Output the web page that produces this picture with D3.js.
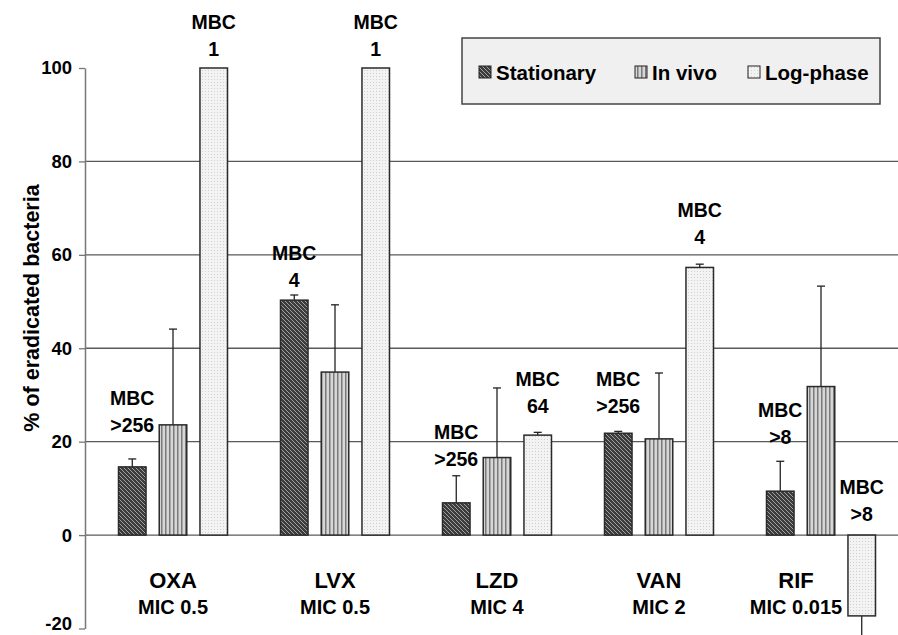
<!DOCTYPE html>
<html>
<head>
<meta charset="utf-8">
<script src="https://cdn.jsdelivr.net/npm/d3@7"></script>
<style>
  body { margin: 0; background: #fff; }
  svg { display: block; font-family: "Liberation Sans", Arial, sans-serif; font-weight: bold; }
</style>
</head>
<body>
<svg width="898" height="635"></svg>
<script>
// chart values
const categories = ["OXA", "LVX", "LZD", "VAN", "RIF"];
const micLabels = ["MIC 0.5", "MIC 0.5", "MIC 4", "MIC 2", "MIC 0.015"];
const seriesNames = ["Stationary", "In vivo", "Log-phase"];

const stationary = [14.6, 50.3, 6.9, 21.8, 9.4];
const stationaryErr = [1.7, 1.1, 5.8, 0.4, 6.4];
const inVivo = [23.6, 34.9, 16.6, 20.6, 31.8];
const inVivoErr = [20.5, 14.4, 14.9, 14.1, 21.5];
const logPhase = [100, 100, 21.4, 57.3, -17.3];
const logPhaseErr = [0, 0, 0.6, 0.7, 4.2];

const yTicks = [-20, 0, 20, 40, 60, 80, 100];
const gridValues = [0, 20, 40, 60, 80];

// MBC annotations: category, series, value, level (y of the "MBC" line, in %)
const mbcCat = ["OXA", "OXA", "LVX", "LVX", "LZD", "LZD", "VAN", "VAN", "RIF", "RIF"];
const mbcSeries = ["Stationary", "Log-phase", "Stationary", "Log-phase", "Stationary", "Log-phase", "Stationary", "Log-phase", "Stationary", "Log-phase"];
const mbcText = [">256", "1", "4", "1", ">256", "64", ">256", "4", ">8", ">8"];
const mbcLevel = [29.3, 109.9, 60.4, 109.9, 22.1, 33.5, 33.5, 69.5, 26.8, 10.3];

const svg = d3.select("svg");
const W = 898, H = 635;

const y = d3.scaleLinear().domain([-20, 100]).range([628.5, 68]);
const x = d3.scaleBand().domain(categories).range([92, 902]).padding(0);
const xs = d3.scaleBand().domain(seriesNames).range([-54.5, 54.5]).paddingInner(0.324).paddingOuter(0);

// patterns
const defs = svg.append("defs");
const pStat = defs.append("pattern").attr("id", "p-stat").attr("patternUnits", "userSpaceOnUse")
  .attr("width", 4).attr("height", 4);
pStat.append("rect").attr("width", 4).attr("height", 4).attr("fill", "#3c3c3c");
pStat.append("path").attr("d", "M-1,-1 L5,5 M-1,3 L1,5 M3,-1 L5,1").attr("stroke", "#a0a0a0").attr("stroke-width", 1);

const pVivo = defs.append("pattern").attr("id", "p-vivo").attr("patternUnits", "userSpaceOnUse")
  .attr("width", 4).attr("height", 4);
pVivo.append("rect").attr("width", 4).attr("height", 4).attr("fill", "#d6d6d6");
pVivo.append("rect").attr("x", 1).attr("width", 1.5).attr("height", 4).attr("fill", "#7a7a7a");

const pLog = defs.append("pattern").attr("id", "p-log").attr("patternUnits", "userSpaceOnUse")
  .attr("width", 3).attr("height", 3);
pLog.append("rect").attr("width", 3).attr("height", 3).attr("fill", "#f3f3f3");
pLog.append("rect").attr("x", 1).attr("y", 1).attr("width", 1).attr("height", 1).attr("fill", "#cfcfcf");

const fills = {"Stationary": "url(#p-stat)", "In vivo": "url(#p-vivo)", "Log-phase": "url(#p-log)"};

// gridlines
svg.append("g").selectAll("line").data(gridValues).join("line")
  .attr("x1", 85).attr("x2", W)
  .attr("y1", d => y(d)).attr("y2", d => y(d))
  .attr("stroke", "#5a5a5a").attr("stroke-width", 1.3);

// y axis (plain hyphen for negatives, like the original)
const yAxis = svg.append("g").attr("transform", "translate(85,0)")
  .call(d3.axisLeft(y).tickValues(yTicks).tickFormat(d => String(d))
    .tickSize(6).tickSizeOuter(0).tickPadding(7));
yAxis.select(".domain").attr("stroke", "#777").attr("stroke-width", 1.5);
yAxis.selectAll(".tick line").attr("stroke", "#777").attr("stroke-width", 1.3);
yAxis.selectAll(".tick text").attr("font-size", 18.5).attr("font-weight", "bold")
  .attr("font-family", "Liberation Sans, Arial, sans-serif").attr("fill", "#000");
// keep the bottom label inside the picture
yAxis.selectAll(".tick").filter(d => d === -20).select("text").attr("y", -5);

svg.append("text")
  .attr("transform", "translate(39,308) rotate(-90)")
  .attr("text-anchor", "middle")
  .attr("font-size", 21.5).attr("fill", "#000")
  .text("% of eradicated bacteria");

// bars
const rows = [];
categories.forEach((c, i) => {
  rows.push({cat: c, s: "Stationary", v: stationary[i], e: stationaryErr[i]});
  rows.push({cat: c, s: "In vivo", v: inVivo[i], e: inVivoErr[i]});
  rows.push({cat: c, s: "Log-phase", v: logPhase[i], e: logPhaseErr[i]});
});
const cx = d => x(d.cat) + x.bandwidth() / 2 + xs(d.s);

const errRows = rows.filter(d => d.e > 0);
// error bars (drawn first so the bar covers the base)
const eg = svg.append("g").attr("stroke", "#222").attr("stroke-width", 1.3);
eg.selectAll("line.v").data(errRows).join("line").attr("class", "v")
  .attr("x1", d => cx(d) + xs.bandwidth() / 2).attr("x2", d => cx(d) + xs.bandwidth() / 2)
  .attr("y1", d => y(d.v)).attr("y2", d => y(d.v + (d.v < 0 ? -d.e : d.e)));
eg.selectAll("line.c").data(errRows.filter(d => d.v >= 0)).join("line").attr("class", "c")
  .attr("x1", d => cx(d) + xs.bandwidth() / 2 - 4).attr("x2", d => cx(d) + xs.bandwidth() / 2 + 4)
  .attr("y1", d => y(d.v + d.e)).attr("y2", d => y(d.v + d.e));

svg.append("g").selectAll("rect").data(rows).join("rect")
  .attr("x", d => cx(d))
  .attr("width", xs.bandwidth())
  .attr("y", d => y(Math.max(0, d.v)))
  .attr("height", d => Math.abs(y(d.v) - y(0)))
  .attr("fill", d => fills[d.s])
  .attr("stroke", "#2a2a2a").attr("stroke-width", 1.5);

// MBC annotations
const ann = svg.append("g").attr("text-anchor", "middle").attr("font-size", 19.5).attr("fill", "#000");
mbcCat.forEach((c, i) => {
  const px = x(c) + x.bandwidth() / 2 + xs(mbcSeries[i]) + xs.bandwidth() / 2;
  const py = y(mbcLevel[i]);
  ann.append("text").attr("x", px).attr("y", py + 7).text("MBC");
  ann.append("text").attr("x", px).attr("y", py + 34).text(mbcText[i]);
});

// category labels
const cl = svg.append("g").attr("text-anchor", "middle").attr("fill", "#000");
categories.forEach((c, i) => {
  const shift = c === "RIF" ? -25 : 0;
  const px = x(c) + x.bandwidth() / 2 + shift;
  cl.append("text").attr("x", px).attr("y", 588).attr("font-size", 22).text(c);
  cl.append("text").attr("x", px).attr("y", 614).attr("font-size", 20).text(micLabels[i]);
});

// legend
const lg = svg.append("g");
lg.append("rect").attr("x", 462).attr("y", 38).attr("width", 418).attr("height", 66)
  .attr("fill", "#f0f0f0").attr("stroke", "#444").attr("stroke-width", 1.5);
const legendX = [479, 635, 748];
seriesNames.forEach((s, i) => {
  lg.append("rect").attr("x", legendX[i]).attr("y", 66).attr("width", 12).attr("height", 12)
    .attr("fill", fills[s]).attr("stroke", "#222").attr("stroke-width", 1);
  lg.append("text").attr("x", legendX[i] + 17).attr("y", 79.5).attr("font-size", 20.5).attr("fill", "#000").text(s);
});
</script>
</body>
</html>
